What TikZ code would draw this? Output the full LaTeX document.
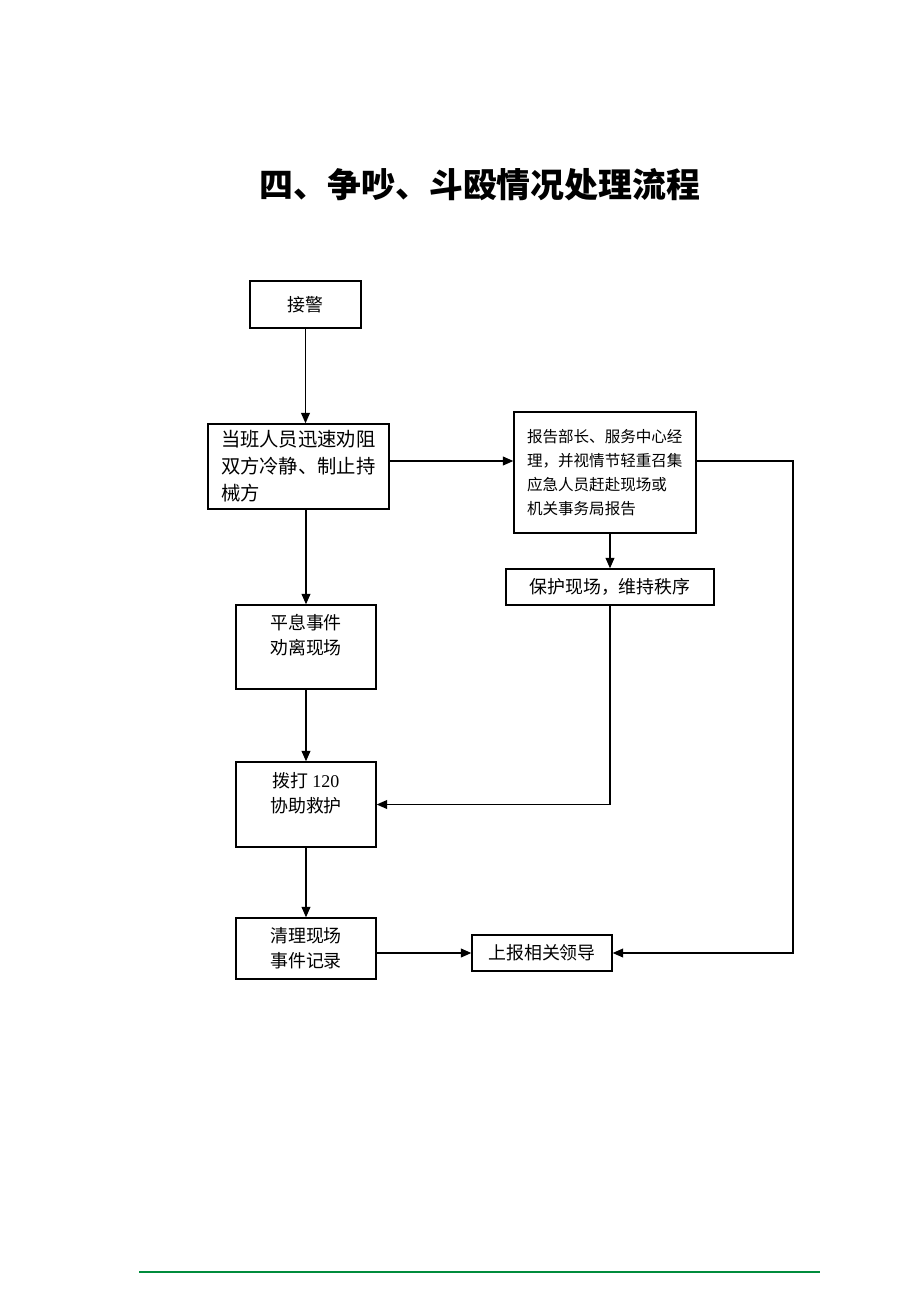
\documentclass[tikz,border=0pt]{standalone}
\usepackage{fontspec}
\setmainfont{Noto Sans CJK SC}
\newfontfamily\latin{Liberation Serif}
\usetikzlibrary{arrows.meta}

\begin{document}
\begin{tikzpicture}[x=0.02cm,y=-0.02cm,>={Triangle[length=6pt,width=5pt]},
        flowbox/.style={draw,rectangle,line width=0.75pt,inner sep=0pt,align=center,font=\fontsize{10.2}{14.2}\selectfont},
        flow/.style={line width=0.9pt,->}]
        \useasboundingbox (0,0) rectangle (920,1302);
        %% Title
        \node[font=\fontsize{19.3}{22}\selectfont\bfseries] (title) at (480,185) {四、争吵、斗殴情况处理流程};
        %% Boxes
        \node[flowbox,minimum width=2.22cm,minimum height=0.94cm] (jiejing) at (305.5,304.5) {接警};
        \node[flowbox,minimum width=3.62cm,minimum height=1.70cm,text width=3.1cm,align=left,font=\fontsize{11}{15.3}\selectfont] (dangban) at (298.5,466.5) {当班人员迅速劝阻\\双方冷静、制止持\\械方};
        \node[flowbox,minimum width=3.64cm,minimum height=2.42cm,text width=3.12cm,align=left,font=\fontsize{8.85}{13.6}\selectfont] (baogao) at (605,472.5) {报告部长、服务中心经\\理，并视情节轻重召集\\应急人员赶赴现场或\\机关事务局报告};
        \node[flowbox,minimum width=4.16cm,minimum height=0.72cm] (baohu) at (610,587) {保护现场，维持秩序};
        \node[flowbox,minimum width=2.80cm,minimum height=1.68cm] (pingxi) at (306,647) {平息事件\\劝离现场\\~};
        \node[flowbox,minimum width=2.80cm,minimum height=1.70cm] (boda) at (306,804.5) {拨打 {\latin 120}\\协助救护\\~};
        \node[flowbox,minimum width=2.80cm,minimum height=1.22cm] (qingli) at (306,948.5) {清理现场\\事件记录};
        \node[flowbox,minimum width=2.80cm,minimum height=0.72cm] (shangbao) at (542,953) {上报相关领导};
        %% Connectors
        \coordinate (corner) at (793,461);
        \draw[flow] (jiejing.south) -- (jiejing.south |- dangban.north);
        \draw[flow] (dangban.east |- corner) -- (baogao.west |- corner);
        \draw[flow] (pingxi.north |- dangban.south) -- (pingxi.north);
        \draw[flow] (baohu.north |- baogao.south) -- (baohu.north);
        \draw[flow] (pingxi.south) -- (boda.north);
        \draw[flow] (baohu.south) |- (boda.east);
        \draw[flow] (boda.south) -- (qingli.north);
        \draw[flow] (qingli.east |- shangbao.west) -- (shangbao.west);
        \draw[flow] (baogao.east |- corner) -- (corner) |- (shangbao.east);
        %% Footer rule
        \draw[line width=1.2pt,color={rgb,255:red,0;green,140;blue,60}] (139,1272) -- (820,1272);
\end{tikzpicture}
\end{document}
